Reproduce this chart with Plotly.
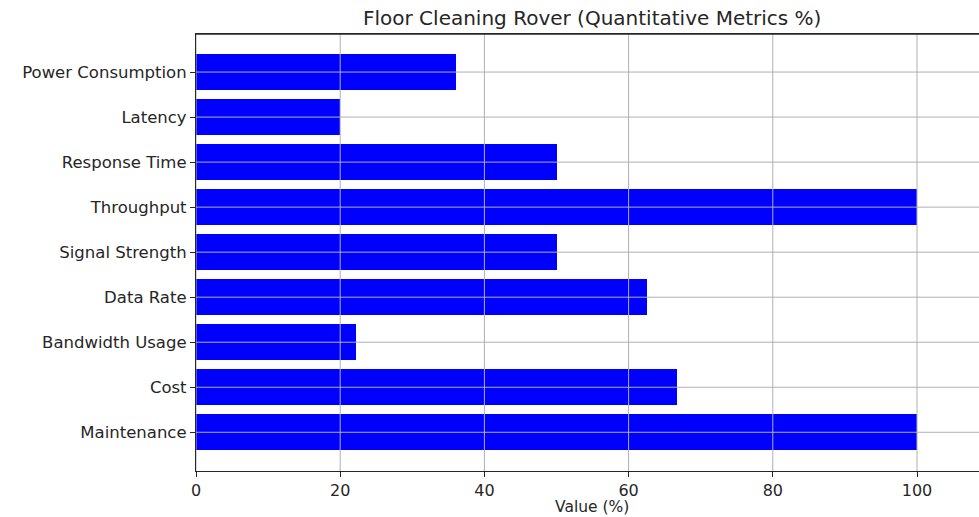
import plotly.graph_objects as go

categories = ["Maintenance", "Cost", "Bandwidth Usage", "Data Rate", "Signal Strength",
              "Throughput", "Response Time", "Latency", "Power Consumption"]
values = [100, 66.7, 22.2, 62.5, 50, 100, 50, 20, 36.0]
x_ticks = [0, 20, 40, 60, 80, 100]

W, H = 979, 517
L, R, T, B = 196, 0, 34, 46

fig = go.Figure(go.Bar(
    y=list(range(len(categories))), x=values, orientation="h",
    width=0.8, marker=dict(color="#0000ff", line=dict(width=0)),
))

font = "DejaVu Sans, sans-serif"
grid = "#b0b0b0"
ink = "#262626"

# gridlines drawn above the bars (matplotlib default here)
shapes = []
for v in x_ticks:
    shapes.append(dict(type="line", xref="x", yref="paper", x0=v, x1=v, y0=0, y1=1,
                       line=dict(color=grid, width=1), layer="above"))
for i in range(len(categories)):
    shapes.append(dict(type="line", xref="paper", yref="y", x0=0, x1=1, y0=i, y1=i,
                       line=dict(color=grid, width=1), layer="above"))
# top spine
shapes.append(dict(type="line", xref="paper", yref="paper", x0=0, x1=1, y0=1, y1=1,
                   line=dict(color=ink, width=1.3), layer="above"))

fig.update_layout(
    width=W, height=H,
    margin=dict(l=L, r=R, t=T, b=B, pad=0),
    plot_bgcolor="white", paper_bgcolor="white",
    font=dict(family=font, size=15, color=ink),
    showlegend=False,
    shapes=shapes,
    annotations=[
        dict(text="Floor Cleaning Rover (Quantitative Metrics %)", xref="paper", yref="paper",
             x=(592 - L) / (W - L), y=1 + (T - 18) / (H - T - B), xanchor="center", yanchor="middle",
             showarrow=False, font=dict(size=20, color=ink, family=font)),
        dict(text="Value (%)", xref="paper", yref="paper",
             x=(592 - L) / (W - L), y=-(507 - (H - B)) / (H - T - B), xanchor="center", yanchor="middle",
             showarrow=False, font=dict(size=15.5, color=ink, family=font)),
    ],
    xaxis=dict(range=[0, (W - L) / 7.21], tickvals=x_ticks, ticktext=[str(v) for v in x_ticks],
               showgrid=False, automargin=False,
               showline=True, linecolor=ink, linewidth=1.2, mirror=True,
               ticks="outside", ticklen=5, tickcolor=ink, tickwidth=1.2,
               zeroline=False, tickfont=dict(size=16)),
    yaxis=dict(range=[-0.86, 8.845], tickvals=list(range(len(categories))), ticktext=categories,
               showgrid=False, automargin=False,
               showline=True, linecolor=ink, linewidth=1.2,
               ticks="outside", ticklen=5, tickcolor=ink, tickwidth=1.2,
               zeroline=False, tickfont=dict(size=16.5), ticksuffix=" "),
    bargap=0,
)

fig.write_html("out.html", config={"displayModeBar": False},
               post_script="document.body.style.margin='0';document.body.style.overflow='hidden';")
